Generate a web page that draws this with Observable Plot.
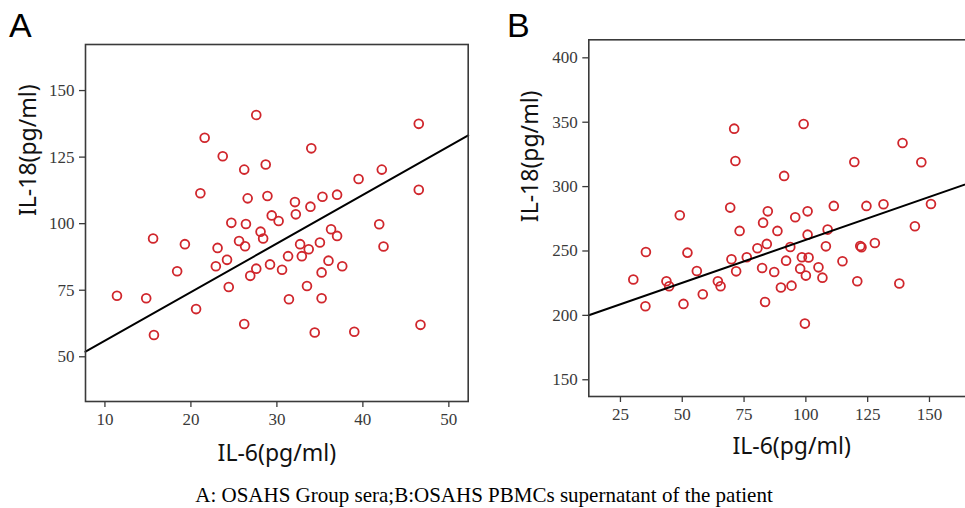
<!DOCTYPE html>
<html><head><meta charset="utf-8">
<script src="https://cdn.jsdelivr.net/npm/d3@7"></script>
<script src="https://cdn.jsdelivr.net/npm/@observablehq/plot@0.6"></script>
<style>
html,body{margin:0;padding:0;background:#fff;overflow:hidden;}
#wrap{position:relative;width:965px;height:508px;overflow:hidden;background:#fff;}
.panel{position:absolute;top:0;}
.panel svg{max-width:none !important;display:block;}
.plabel{position:absolute;top:8px;font-family:"Liberation Sans",Arial,sans-serif;font-size:34px;color:#000;line-height:1;}
#caption{position:absolute;left:0;top:485px;width:968px;text-align:center;font-family:"Liberation Serif","Times New Roman",serif;font-size:21px;line-height:1;color:#000;}
</style></head>
<body>
<div id="wrap">
  <div class="panel" id="panelA" style="left:0px;width:480px"></div>
  <div class="panel" id="panelB" style="left:500px;width:500px"></div>
  <div class="plabel" style="left:9px">A</div>
  <div class="plabel" style="left:507px">B</div>
  <div id="caption">A: OSAHS Group sera;B:OSAHS PBMCs supernatant of the patient</div>
</div>
<script>
// ---- Panel A: OSAHS group sera ----
const aIL6 = [11.4,14.8,15.7,15.6,18.4,19.3,20.6,21.1,21.6,23.1,22.9,23.7,24.2,24.4,24.7,25.6,26.2,26.4,26.3,26.6,26.2,26.9,27.6,27.6,28.1,28.4,28.7,28.9,29.2,29.4,30.2,30.6,31.3,31.4,32.1,32.2,32.7,32.9,33.7,33.5,33.9,34.0,34.4,35.0,35.2,35.2,35.3,36.0,36.3,37.0,37.0,37.6,39.0,39.5,41.9,42.2,42.4,46.5,46.5,46.7];
const aIL18 = [72.9,72.0,58.2,94.4,82.1,92.3,67.9,111.4,132.3,90.9,84.0,125.3,86.4,76.2,100.3,93.5,120.3,99.9,91.5,109.5,62.3,80.4,140.8,83.1,97.0,94.4,122.2,110.4,84.7,103.1,101.0,82.7,87.8,71.6,108.1,103.5,92.3,87.8,90.4,76.6,106.4,128.3,59.1,92.9,81.7,72.0,110.1,86.1,97.9,95.4,110.9,84.0,59.4,116.8,99.8,120.3,91.4,137.5,112.7,62.0];
const aFit = [37.8, 1.825]; // intercept, slope
const aXTicks = [10,20,30,40,50];
const aYTicks = [50,75,100,125,150];

// ---- Panel B: OSAHS PBMCs supernatant ----
const bIL6 = [30.2,35.3,35.1,43.6,44.7,49.0,50.5,52.1,55.9,58.3,64.4,65.5,69.4,69.9,71.0,71.5,71.8,73.2,76.1,80.4,82.3,82.7,83.5,84.2,84.6,87.2,88.5,89.9,91.2,92.0,93.7,94.2,95.7,97.7,98.4,99.1,99.6,100.0,100.7,100.7,101.1,105.1,106.7,108.1,108.8,111.3,114.8,119.6,120.8,122.0,122.5,124.5,127.9,131.4,137.8,139.1,144.1,146.7,150.6];
const bIL18 = [227.8,249.2,207.1,226.5,222.6,277.7,208.9,248.7,234.5,216.4,226.5,222.6,283.7,243.6,345.0,319.9,234.2,265.6,245.1,252.1,236.8,272.0,210.4,255.5,280.8,233.7,265.6,221.6,308.3,242.5,253.1,223.1,276.2,236.3,245.1,348.6,193.6,230.9,280.8,262.7,244.9,237.3,229.3,253.6,266.6,285.0,242.0,319.1,226.5,253.9,252.9,285.0,256.2,286.3,224.7,333.9,269.2,318.9,286.5];
const bFit = [191.96, 0.667];
const bXTicks = [25,50,75,100,125,150];
const bYTicks = [150,200,250,300,350,400];

const xLabel = "IL-6(pg/ml)";
const yLabel = "IL-18(pg/ml)";

const RED = "#d0262c";
const labelFont = "'Noto Sans', 'Open Sans', sans-serif";

function panel({xs, ys, fit, xTicks, yTicks, xDomain, yDomain, width, height, margins, yLabDx, yLabDy, xLabDy}) {
  const pts = xs.map((x, i) => ({x, y: ys[i]}));
  const fitLine = xDomain.map(x => ({x, y: fit[0] + fit[1] * x}));
  return Plot.plot({
    width, height,
    marginLeft: margins[0], marginTop: margins[1], marginRight: margins[2], marginBottom: margins[3],
    x: {domain: xDomain},
    y: {domain: yDomain},
    style: {fontFamily: "'Liberation Serif','Times New Roman',serif", fontSize: "17px", color: "#3a3a3a", background: "transparent", overflow: "visible", maxWidth: "none"},
    marks: [
      Plot.axisX(xTicks, {tickSize: 6, tickPadding: 5, label: null, strokeWidth: 1.3}),
      Plot.axisY(yTicks, {tickSize: 6, tickPadding: 5, label: null, strokeWidth: 1.3}),
      Plot.dot(pts, {x: "x", y: "y", r: 4.4, stroke: RED, strokeWidth: 1.8, fill: "none"}),
      Plot.line(fitLine, {x: "x", y: "y", stroke: "#000", strokeWidth: 2}),
      Plot.frame({stroke: "#3a3a3a", strokeWidth: 1.6}),
      Plot.text([xLabel], {frameAnchor: "bottom", lineAnchor: "bottom", dy: xLabDy, text: d => d, fontFamily: labelFont, fontSize: 23, fill: "#111"}),
      Plot.text([yLabel], {frameAnchor: "left", lineAnchor: "bottom", rotate: -90, dx: yLabDx, dy: yLabDy, text: d => d, fontFamily: labelFont, fontSize: 23, fill: "#111"})
    ]
  });
}

document.getElementById("panelA").appendChild(panel({
  xs: aIL6, ys: aIL18, fit: aFit, xTicks: aXTicks, yTicks: aYTicks,
  xDomain: [7.74, 52.25], yDomain: [33.2, 167.3],
  width: 480, height: 475, margins: [85, 44, 12.3, 74],
  yLabDx: -50, yLabDy: -7, xLabDy: 59
}));

document.getElementById("panelB").appendChild(panel({
  xs: bIL6, ys: bIL18, fit: bFit, xTicks: bXTicks, yTicks: bYTicks,
  xDomain: [12.2, 176.3], yDomain: [137, 414],
  width: 500, height: 475, margins: [88.3, 39.3, 6, 79],
  yLabDx: -51, yLabDy: 4, xLabDy: 57
}));
</script>
</body></html>
